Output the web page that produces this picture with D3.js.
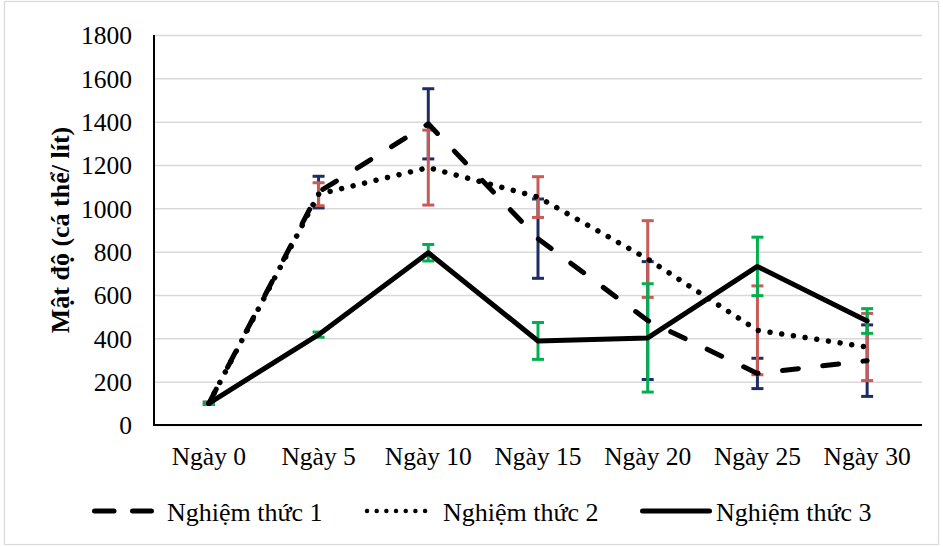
<!DOCTYPE html>
<html>
<head>
<meta charset="utf-8">
<script src="https://cdn.jsdelivr.net/npm/d3@7"></script>
<style>
  html, body { margin: 0; padding: 0; background: #fff; }
  svg { display: block; }
</style>
</head>
<body>
<svg id="chart" width="943" height="547"></svg>
<script>
// ---- data ----
const categories = ["Ngày 0", "Ngày 5", "Ngày 10", "Ngày 15", "Ngày 20", "Ngày 25", "Ngày 30"];
const seriesNames = ["Nghiệm thức 1", "Nghiệm thức 2", "Nghiệm thức 3"];
const nt1 = [100, 1075, 1390, 860, 482, 238, 297];
const sd1 = [5, 73, 162, 183, 272, 70, 165];
const nt2 = [100, 1065, 1188, 1052, 766, 437, 360];
const sd2 = [5, 53, 173, 94, 177, 205, 155];
const nt3 = [100, 417, 795, 388, 402, 732, 480];
const sd3 = [5, 12, 38, 85, 250, 135, 57];
const yTicks = [0, 200, 400, 600, 800, 1000, 1200, 1400, 1600, 1800];
const yTitle = "Mật độ (cá thể/ lít)";

const FONT = "Liberation Serif";

// ---- layout ----
const svg = d3.select("#chart");
const pL = 154, pR = 922, pT = 35, pB = 425;

const x = d3.scaleBand().domain(categories).range([pL, pR]).paddingInner(0).paddingOuter(0);
const cx = c => x(c) + x.bandwidth() / 2;
const y = d3.scaleLinear().domain([0, 1800]).range([pB, pT]);

// chart border
svg.append("rect").attr("x", 4.5).attr("y", 1.5).attr("width", 934).attr("height", 543)
  .attr("fill", "none").attr("stroke", "#d9d9d9").attr("stroke-width", 1.2);

// gridlines
const grid = svg.append("g").attr("transform", `translate(${pL},0)`)
  .call(d3.axisLeft(y).tickValues(yTicks).tickSize(-(pR - pL)).tickFormat(""));
grid.select(".domain").remove();
grid.selectAll("line").attr("stroke", "#d9d9d9").attr("stroke-width", 1.5);

// y tick labels
const yAx = svg.append("g").attr("transform", `translate(${pL},0)`)
  .call(d3.axisLeft(y).tickValues(yTicks).tickSize(0).tickPadding(22).tickFormat(d3.format("d")));
yAx.attr("font-family", null).attr("font-size", null);
yAx.select(".domain").remove();
yAx.selectAll("text").style("font-family", FONT).style("font-size", "25.5px").attr("dy", "0.34em").attr("fill", "#000");

// x tick labels
const xAx = svg.append("g").attr("transform", `translate(0,${pB})`)
  .call(d3.axisBottom(x).tickSize(0));
xAx.attr("font-family", null).attr("font-size", null);
xAx.select(".domain").remove();
xAx.selectAll("text").style("font-family", FONT).style("font-size", "25.5px").attr("y", 40).attr("dy", 0).attr("fill", "#000");

// axis lines
svg.append("line").attr("x1", pL).attr("x2", pL).attr("y1", pT).attr("y2", pB + 1)
  .attr("stroke", "#000").attr("stroke-width", 2);
svg.append("line").attr("x1", pL - 1).attr("x2", pR).attr("y1", pB).attr("y2", pB)
  .attr("stroke", "#000").attr("stroke-width", 2);

// y title
svg.append("text")
  .attr("transform", `translate(69,${(pT + pB) / 2}) rotate(-90)`)
  .attr("text-anchor", "middle")
  .style("font-family", FONT).style("font-size", "26px").style("font-weight", "bold")
  .text(yTitle);

// ---- error bars ----
const errColors = ["#1f2d66", "#c85a57", "#00b050"];
const series = [
  { vals: nt1, sds: sd1, dash: "16,24.5", width: 5 },
  { vals: nt2, sds: sd2, dash: "0.01,11.8", width: 5.5 },
  { vals: nt3, sds: sd3, dash: null, width: 5 }
];
series.forEach((s, si) => {
  const g = svg.append("g").attr("stroke", errColors[si]).attr("stroke-width", 3);
  categories.forEach((c, i) => {
    const xc = cx(c);
    const y1 = y(s.vals[i] + s.sds[i]), y2 = y(s.vals[i] - s.sds[i]);
    g.append("line").attr("x1", xc).attr("x2", xc).attr("y1", y1).attr("y2", y2);
    g.append("line").attr("x1", xc - 6).attr("x2", xc + 6).attr("y1", y1).attr("y2", y1);
    g.append("line").attr("x1", xc - 6).attr("x2", xc + 6).attr("y1", y2).attr("y2", y2);
  });
});

// ---- lines ----
series.forEach(s => {
  const line = d3.line().x((d, i) => cx(categories[i])).y(d => y(d));
  const p = svg.append("path").datum(s.vals).attr("d", line)
    .attr("fill", "none").attr("stroke", "#000").attr("stroke-width", s.width)
    .attr("stroke-linecap", "round").attr("stroke-linejoin", "round");
  if (s.dash) p.attr("stroke-dasharray", s.dash);
});

// ---- legend ----
const legendY = 511;
const legendItems = [
  { x1: 94.5, x2: 151.5, dash: "19.5,18.5", w: 5, tx: 167 },
  { x1: 367, x2: 425.1, dash: "0.01,9.67", w: 4.5, tx: 443 },
  { x1: 642.5, x2: 709.5, dash: null, w: 5, tx: 716 }
];
legendItems.forEach((li, i) => {
  const l = svg.append("line").attr("x1", li.x1).attr("x2", li.x2)
    .attr("y1", legendY).attr("y2", legendY)
    .attr("stroke", "#000").attr("stroke-width", li.w).attr("stroke-linecap", "round");
  if (li.dash) l.attr("stroke-dasharray", li.dash);
  svg.append("text").attr("x", li.tx).attr("y", 521)
    .style("font-family", FONT).style("font-size", "26px").attr("fill", "#000")
    .text(seriesNames[i]);
});
</script>
</body>
</html>
